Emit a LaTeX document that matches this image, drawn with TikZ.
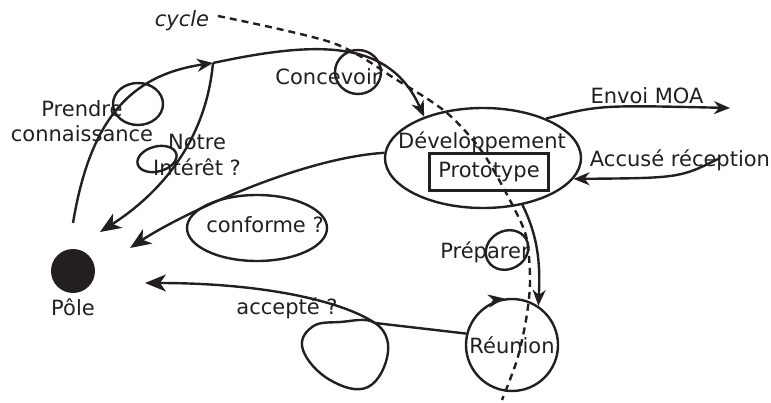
\documentclass[tikz,border=0pt]{standalone}
\usepackage{fontspec}
\setmainfont{DejaVu Sans}
\usepackage{tikz}
\usetikzlibrary{arrows.meta,shapes.geometric}
\definecolor{ink}{RGB}{35,31,32}

\begin{document}
\begin{tikzpicture}[x=1pt,y=-1pt,
    every node/.style={text=ink,font=\fontsize{21}{25.5}\selectfont},
    inkline/.style={draw=ink,line width=2.4pt},
    inkarrow/.style={inkline,-{Stealth[length=16pt,width=13pt,inset=5pt]}},
    bigarrow/.style={inkline,-{Stealth[length=21pt,width=17pt,inset=6pt]}},
    loopy/.style={inkline,ellipse,inner sep=0pt},
    lbl/.style={inner sep=0pt}]
  \useasboundingbox (0,0) rectangle (771,403);
  \node[circle,fill=ink,minimum size=44pt,inner sep=0pt] (pole) at (73,271) {};
  \node[lbl] (polelabel) at (73,307) {Pôle};
  \node[loopy,minimum width=196pt,minimum height=100pt] (dev) at (483,158) {};
  \node[lbl] (devtext) at (482,142) {Développement};
  \node[inkline,minimum width=119pt,minimum height=37pt,inner sep=0pt] (proto) at (489,172) {Prototype};
  \node[inkline,circle,minimum size=92pt,inner sep=0pt] (reunion) at (512,345) {Réunion};
  \node[loopy,minimum width=50pt,minimum height=42pt] (prendreloop) at (138,104) {};
  \node[loopy,minimum width=40pt,minimum height=25pt,rotate=15] (notreloop) at (157,159) {};
  \node[loopy,minimum width=46pt,minimum height=44pt] (concevoirloop) at (358,72) {};
  \node[loopy,minimum width=140pt,minimum height=66pt] (conformeloop) at (257,228) {};
  \node[loopy,minimum width=44pt,minimum height=38pt,rotate=30] (preparerloop) at (507,250) {};
  \node[lbl] (cycle) at (182,21) {\itshape cycle};
  \node[lbl,align=center] (prendre) at (82,121) {Prendre\\connaissance};
  \node[lbl] (concevoir) at (328,77) {Concevoir};
  \node[lbl,align=center] (notre) at (197,155) {Notre\\Intérêt ?};
  \node[lbl] (envoi) at (647,96) {Envoi MOA};
  \node[lbl] (accuse) at (680,160) {Accusé réception};
  \node[lbl] (conforme) at (265,225) {conforme ?};
  \node[lbl] (accepte) at (287,308) {accepté ?};
  \node[lbl] (preparer) at (485,252) {Préparer};
  \coordinate (start) at (73,223);
  \coordinate (junction) at (213,63);
  \coordinate (moa) at (730,108);
  \coordinate (ack) at (720,158);
  \coordinate (tipnotre) at (100,232);
  \coordinate (tipconforme) at (130,248);
  \coordinate (tipaccepte) at (145,283);
  \coordinate (cross) at (375,323);
  \coordinate (cyclestart) at (218,16);
  \draw[inkline] plot[smooth cycle,tension=0.7] coordinates {(cross) (388,352) (368,387) (330,380) (303,350) (312,327) (340,322)};
  \draw[inkarrow] (start) .. controls (90,120) and (130,75) .. (junction);
  \draw[inkarrow] (junction) .. controls (320,40) and (390,40) .. (dev.145);
  \draw[bigarrow] (junction) .. controls (205,150) and (150,200) .. (tipnotre);
  \draw[inkarrow] (dev.32) .. controls (600,105) .. (moa);
  \draw[inkarrow] (ack) .. controls (680,178) .. (dev.-13);
  \draw[bigarrow] (dev.177) .. controls (300,158) and (180,215) .. (tipconforme);
  \draw[bigarrow] (reunion.166) -- (cross) .. controls (340,300) and (260,283) .. (tipaccepte);
  \draw[inkarrow] (dev.-50) .. controls (540,240) and (540,270) .. (reunion.56);
  \draw[inkarrow] (reunion.115) arc[start angle=-115,end angle=-99,radius=46];
  \draw[inkline,dash pattern=on 7pt off 5pt] plot[smooth] coordinates {(cyclestart) (333,43) (397,80) (447,113) (483,153) (515,210) (527,240) (530,283) (526,320) (517,360) (502,400)};
\end{tikzpicture}
\end{document}
